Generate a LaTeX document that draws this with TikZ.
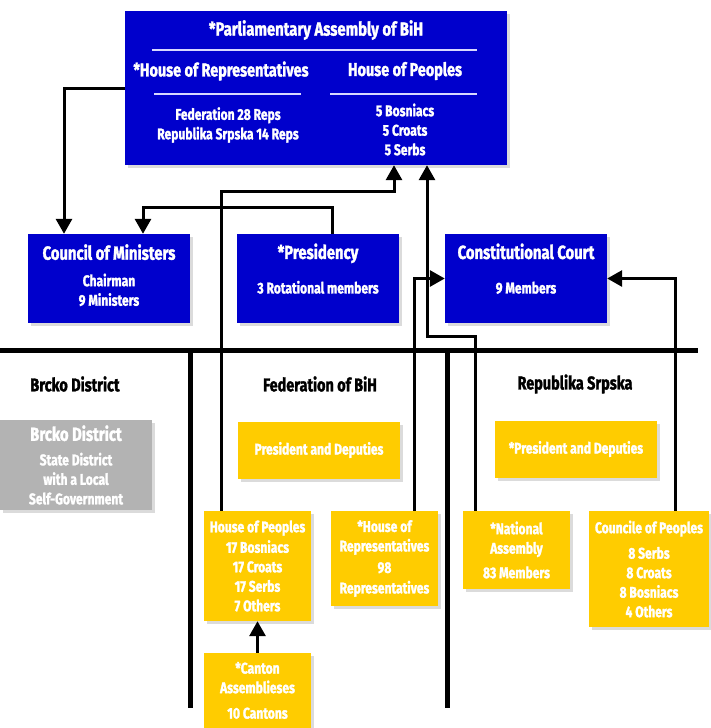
\documentclass[tikz,border=0pt]{standalone}
\usepackage{fontspec}
\setmainfont{Fira Sans}[FakeStretch=0.78, BoldFeatures={FakeBold=1.6}]
\usepackage{xcolor}
\usepackage{tikz}
\usetikzlibrary{shapes,arrows.meta,shadows}
\usetikzlibrary{positioning}

\definecolor{stateblue}{RGB}{0,0,204}
\definecolor{entyellow}{RGB}{255,204,0}
\definecolor{brckogray}{RGB}{179,179,179}
\definecolor{rulelilac}{RGB}{215,215,255}

\tikzset{
  govbox/.style={rectangle, fill=stateblue, text=white, align=center,
    font=\fontsize{15.5}{19.5}\selectfont\bfseries,
    drop shadow={shadow xshift=3pt, shadow yshift=-3pt, fill=black!14, opacity=1}},
  entbox/.style={govbox, fill=entyellow},
  brckobox/.style={govbox, fill=brckogray},
  conn/.style={line width=3pt, -{Triangle[length=15pt,width=16pt]}},
  divider/.style={line width=5pt},
  heading/.style={font=\fontsize{18.5}{20}\selectfont\bfseries, text=black},
  boxtitle/.style={font=\fontsize{19}{20}\selectfont\bfseries, text=white},
  subtitle/.style={font=\fontsize{15.5}{19.5}\selectfont\bfseries, text=white, align=center}
}

\newcommand{\ttl}[1]{{\fontsize{19}{20}\selectfont #1}}

\begin{document}
\begin{tikzpicture}[x=1pt, y=-1pt]
  \useasboundingbox (0,0) rectangle (710,728);

  % state level
  \node (parl) [govbox, minimum width=382pt, minimum height=154pt] at (316,88) {};
  \node (parl-t) [boxtitle] at (316,30) {*Parliamentary Assembly of BiH};
  \node (hor-t) [boxtitle, font=\fontsize{18.5}{20}\selectfont\bfseries] at (221,71) {*House of Representatives};
  \node (hop-t) [boxtitle, font=\fontsize{18.5}{20}\selectfont\bfseries] at (405,71) {House of Peoples};
  \node (hor-s) [subtitle] at (228,125) {Federation 28 Reps\\Republika Srpska 14 Reps};
  \node (hop-s) [subtitle] at (405,129.5) {5 Bosniacs\\5 Croats\\5 Serbs};
  \draw[rulelilac, line width=2pt] (152,50) -- (477,50);
  \draw[rulelilac, line width=2pt] (154,94) -- (301,94);
  \draw[rulelilac, line width=2pt] (330,94) -- (477,94);

  \node (council) [govbox, minimum width=162pt, minimum height=89pt, text depth=7pt] at (109,278.5)
    {\ttl{Council of Ministers}\\[7pt]Chairman\\9 Ministers};
  \node (pres) [govbox, minimum width=162pt, minimum height=89pt, text depth=20pt] at (318,278.5)
    {\ttl{*Presidency}\\[15pt]3 Rotational members};
  \node (court) [govbox, minimum width=162pt, minimum height=89pt, text depth=20pt] at (526,278.5)
    {\ttl{Constitutional Court}\\[15pt]9 Members};

  % entities
  \draw[divider] (0,350) -- (698,350);
  \draw[divider] (190,350) -- (190,708);
  \draw[divider] (447,350) -- (447,708);

  \node (brcko-h) [heading] at (75,384) {Brcko District};
  \node (fed-h) [heading] at (320,384) {Federation of BiH};
  \node (rs-h) [heading] at (575,384) {Republika Srpska};

  \node (brcko) [brckobox, minimum width=152pt, minimum height=90pt] at (76,465)
    {\ttl{Brcko District}\\[5pt]State District\\with a Local\\Self-Government};
  \node (fedpres) [entbox, minimum width=162pt, minimum height=57pt] at (319,450)
    {President and Deputies};
  \node (rspres) [entbox, minimum width=162pt, minimum height=57pt] at (576,449)
    {*President and Deputies};

  \node (fhop) [entbox, minimum width=107pt, minimum height=110pt] at (257.5,566)
    {House of Peoples\\[1pt]17 Bosniacs\\17 Croats\\17 Serbs\\7 Others};
  \node (canton) [entbox, minimum width=107pt, minimum height=75pt] at (257.5,690.5)
    {*Canton\\Assemblieses\\[6pt]10 Cantons};
  \node (fhor) [entbox, minimum width=107pt, minimum height=95pt] at (384.5,558.5)
    {*House of\\Representatives\\[2pt]98\\[1pt]Representatives};
  \node (natass) [entbox, minimum width=107pt, minimum height=78pt] at (516.5,550)
    {*National\\Assembly\\[5pt]83 Members};
  \node (cop) [entbox, minimum width=120pt, minimum height=116pt] at (649,569)
    {Councile of Peoples\\[6pt]8 Serbs\\8 Croats\\8 Bosniacs\\4 Others};

  % connectors
  \draw[conn] (parl.west) -| ([xshift=-45pt]council.north);
  \draw[conn] ([xshift=14pt]pres.north) -- ++(0,-26) -| ([xshift=34pt]council.north);
  \draw[conn] ([xshift=18pt]fhop.north west) |- ([xshift=78pt,yshift=-26pt]parl.south)
    -- ([xshift=78pt]parl.south);
  \draw[conn] ([xshift=13pt]natass.north west) -- ++(0,-174) -| ([xshift=111pt]parl.south);
  \draw[conn] ([xshift=84pt]fhor.north west) |- (court.west);
  \draw[conn] ([xshift=87pt]cop.north west) |- (court.east);
  \draw[conn] (canton.north) -- (fhop.south);
\end{tikzpicture}
\end{document}
